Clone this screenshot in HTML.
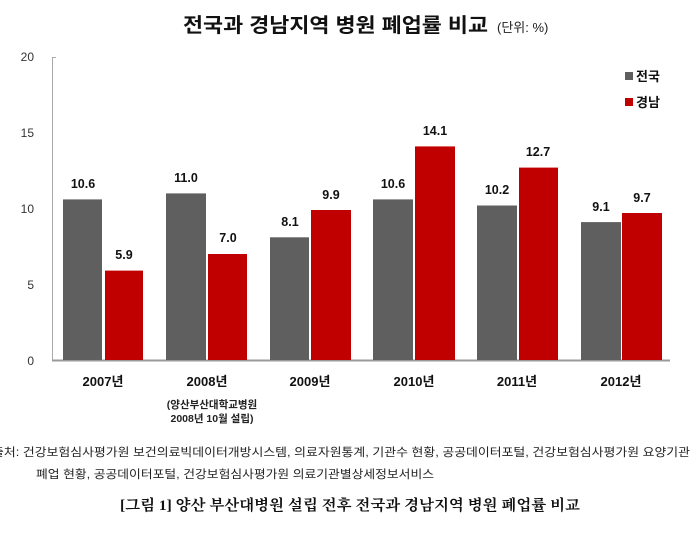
<!DOCTYPE html>
<html><head><meta charset="utf-8"><style>
body{margin:0;background:#fff;width:700px;height:547px;overflow:hidden;font-family:"Liberation Sans","Noto Sans CJK KR",sans-serif}
</style></head><body>
<svg width="700" height="547" xmlns="http://www.w3.org/2000/svg" style="font-family:'Liberation Sans','Noto Sans CJK KR',sans-serif">
<text x="183" y="32" font-size="20" font-weight="bold" fill="#111" textLength="305" lengthAdjust="spacingAndGlyphs">전국과 경남지역 병원 폐업률 비교</text>
<text x="497" y="32" font-size="13" fill="#222">(단위: %)</text>
<g font-size="12" fill="#333" text-anchor="end">
<text x="34" y="61">20</text><text x="34" y="137">15</text><text x="34" y="213">10</text><text x="34" y="289">5</text><text x="34" y="365">0</text>
</g>
<line x1="52.5" y1="57" x2="52.5" y2="360" stroke="#aaa"/>
<line x1="52" y1="57.5" x2="56" y2="57.5" stroke="#aaa"/>
<line x1="52" y1="360.5" x2="670" y2="360.5" stroke="#999" stroke-width="2"/>
<rect x="625" y="72" width="8" height="8" fill="#5f5f5f"/><text x="636" y="81" font-size="13" font-weight="bold" fill="#111">전국</text>
<rect x="625" y="98" width="8" height="8" fill="#c00000"/><text x="636" y="107" font-size="13" font-weight="bold" fill="#111">경남</text>
<g font-size="13" font-weight="bold" fill="#111" text-anchor="middle">
<text x="103" y="386">2007년</text><text x="207" y="386">2008년</text><text x="310" y="386">2009년</text><text x="414" y="386">2010년</text><text x="517" y="386">2011년</text><text x="621" y="386">2012년</text>
</g>
<g font-size="10.5" font-weight="bold" fill="#222" text-anchor="middle">
<text x="212" y="408">(양산부산대학교병원</text><text x="212" y="422">2008년 10월 설립)</text>
</g>
<g font-size="11.5" fill="#222">
<text x="-8" y="456" textLength="698" lengthAdjust="spacingAndGlyphs">출처: 건강보험심사평가원 보건의료빅데이터개방시스템, 의료자원통계, 기관수 현황, 공공데이터포털, 건강보험심사평가원 요양기관</text>
<text x="36" y="478" textLength="398" lengthAdjust="spacingAndGlyphs">폐업 현황, 공공데이터포털, 건강보험심사평가원 의료기관별상세정보서비스</text>
</g>
<text x="120" y="510" font-size="15" font-weight="bold" fill="#111" textLength="460" lengthAdjust="spacingAndGlyphs" style="font-family:'Liberation Serif','Noto Serif CJK SC',serif">[그림 1] 양산 부산대병원 설립 전후 전국과 경남지역 병원 폐업률 비교</text>
<g font-size="12.5" font-weight="bold" fill="#111" text-anchor="middle">
<rect x="63" y="199.4" width="39" height="160.6" fill="#5f5f5f"/><text x="83" y="188">10.6</text>
<rect x="105" y="270.6" width="38" height="89.4" fill="#c00000"/><text x="124" y="259">5.9</text>
<rect x="166" y="193.4" width="40" height="166.6" fill="#5f5f5f"/><text x="186" y="182">11.0</text>
<rect x="208" y="254" width="39" height="106" fill="#c00000"/><text x="228" y="242">7.0</text>
<rect x="270" y="237.3" width="39" height="122.7" fill="#5f5f5f"/><text x="290" y="226">8.1</text>
<rect x="311" y="210" width="40" height="150" fill="#c00000"/><text x="331" y="199">9.9</text>
<rect x="373" y="199.4" width="40" height="160.6" fill="#5f5f5f"/><text x="393" y="188">10.6</text>
<rect x="415" y="146.4" width="40" height="213.6" fill="#c00000"/><text x="435" y="135">14.1</text>
<rect x="477" y="205.5" width="40" height="154.5" fill="#5f5f5f"/><text x="497" y="194">10.2</text>
<rect x="519" y="167.6" width="39" height="192.4" fill="#c00000"/><text x="538" y="156">12.7</text>
<rect x="581" y="222.1" width="40" height="137.9" fill="#5f5f5f"/><text x="601" y="211">9.1</text>
<rect x="622" y="213" width="40" height="147" fill="#c00000"/><text x="642" y="202">9.7</text>
</g>
</svg>
</body></html>
